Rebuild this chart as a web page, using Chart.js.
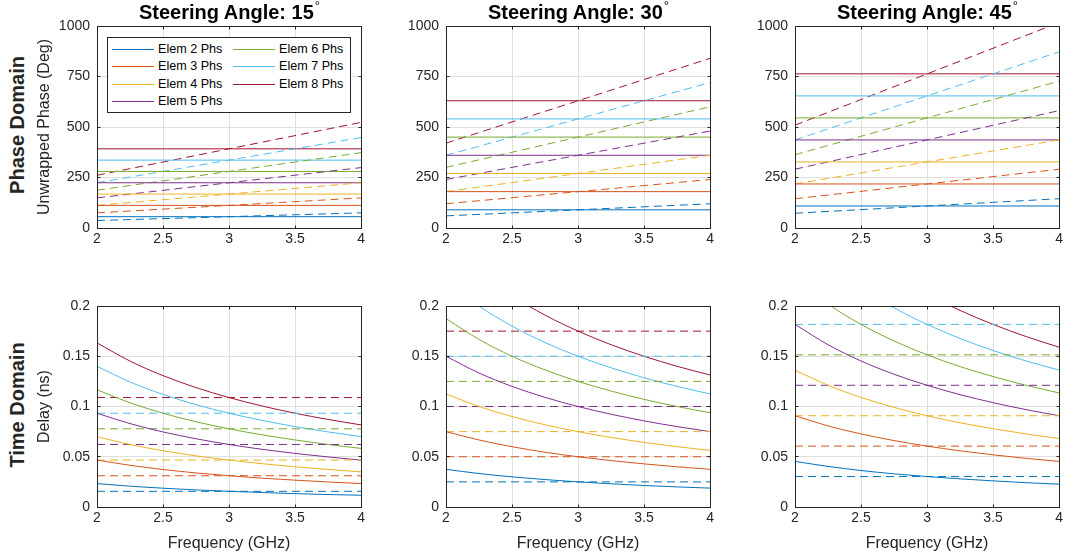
<!DOCTYPE html>
<html>
<head>
<meta charset="utf-8">
<script src="https://cdn.jsdelivr.net/npm/chart.js@4.4.1/dist/chart.umd.min.js"></script>
<style>
html,body{margin:0;padding:0;background:#fff;}
body{width:1070px;height:558px;position:relative;overflow:hidden;font-family:"Liberation Sans",Arial,Helvetica,sans-serif;}
canvas{position:absolute;}
.title{position:absolute;width:400px;text-align:center;font-weight:bold;font-size:20px;line-height:20px;color:#000;top:1.5px;white-space:nowrap;z-index:5;}
.deg{font-size:13px;font-weight:normal;position:relative;top:-9px;margin-left:1px;}
.rowlab{position:absolute;width:220px;height:20px;line-height:20px;text-align:center;font-weight:bold;font-size:20px;color:#262626;transform:rotate(-90deg);white-space:nowrap;z-index:5;}
.legend{position:absolute;box-sizing:border-box;left:107px;top:37px;width:244px;height:76px;background:#fff;border:1px solid #262626;z-index:6;}
.lgline{position:absolute;width:42px;height:0;z-index:7;}
.lgtext{position:absolute;font-size:12.6px;line-height:16px;color:#000;white-space:nowrap;z-index:7;}
</style>
</head>
<body>
<script>
// ---------------- DATA ----------------
const ANGLES = [15, 30, 45];
const ELEMENTS = ['Elem 2 Phs', 'Elem 3 Phs', 'Elem 4 Phs', 'Elem 5 Phs', 'Elem 6 Phs', 'Elem 7 Phs', 'Elem 8 Phs'];
const ROW_LABELS = ['Phase Domain', 'Time Domain'];
const Y_TITLES = ['Unwrapped Phase (Deg)', 'Delay (ns)'];
const X_TITLE = 'Frequency (GHz)';

const FREQ_ENDS = [2, 4];
const FREQ_POINTS = [2, 2.25, 2.5, 2.75, 3, 3.25, 3.5, 3.75, 4];

const FREQ_TICKS = [2, 2.5, 3, 3.5, 4];
const FREQ_TICK_LABELS = ['2', '2.5', '3', '3.5', '4'];
const PHASE_TICKS = [0, 250, 500, 750, 1000];
const PHASE_TICK_LABELS = ['0', '250', '500', '750', '1000'];
const DELAY_TICKS = [0, 0.05, 0.1, 0.15, 0.2];
const DELAY_TICK_LABELS = ['0', '0.05', '0.1', '0.15', '0.2'];

// Phase domain: phase shifter (solid, constant) and true-time-delay phase (dashed, at 2 and 4 GHz)
const PHASE_SOLID_15 = [56, 112, 168, 224, 280, 336, 392];
const PHASE_DASH_2GHZ_15 = [37, 75, 112, 149, 187, 224, 261];
const PHASE_DASH_4GHZ_15 = [75, 149, 224, 299, 373, 448, 523];
const PHASE_SOLID_30 = [90, 180, 270, 360, 450, 540, 630];
const PHASE_DASH_2GHZ_30 = [60, 120, 180, 240, 300, 360, 420];
const PHASE_DASH_4GHZ_30 = [120, 240, 360, 480, 600, 720, 840];
const PHASE_SOLID_45 = [109, 218, 327, 436, 545, 654, 763];
const PHASE_DASH_2GHZ_45 = [73, 145, 218, 291, 363, 436, 509];
const PHASE_DASH_4GHZ_45 = [145, 291, 436, 581, 727, 872, 1017];

// Time domain: true-time delay (dashed, constant)
const DELAY_DASH_15 = [0.0156, 0.0311, 0.0467, 0.0622, 0.0778, 0.0933, 0.1089];
const DELAY_DASH_30 = [0.025, 0.05, 0.075, 0.1, 0.125, 0.15, 0.175];
const DELAY_DASH_45 = [0.0303, 0.0606, 0.0908, 0.1211, 0.1514, 0.1817, 0.2119];

// Time domain: phase-shifter delay (solid), values at FREQ_POINTS
const DELAY_SOLID_15 = [
  [0.0233, 0.0207, 0.0187, 0.0170, 0.0156, 0.0144, 0.0133, 0.0124, 0.0117],
  [0.0467, 0.0415, 0.0373, 0.0339, 0.0311, 0.0287, 0.0267, 0.0249, 0.0233],
  [0.0700, 0.0622, 0.0560, 0.0509, 0.0467, 0.0431, 0.0400, 0.0373, 0.0350],
  [0.0933, 0.0830, 0.0747, 0.0679, 0.0622, 0.0574, 0.0533, 0.0498, 0.0467],
  [0.1167, 0.1037, 0.0933, 0.0848, 0.0778, 0.0718, 0.0667, 0.0622, 0.0583],
  [0.1400, 0.1244, 0.1120, 0.1018, 0.0933, 0.0862, 0.0800, 0.0747, 0.0700],
  [0.1633, 0.1452, 0.1307, 0.1188, 0.1089, 0.1005, 0.0933, 0.0871, 0.0817]
];
const DELAY_SOLID_30 = [
  [0.0375, 0.0333, 0.0300, 0.0273, 0.0250, 0.0231, 0.0214, 0.0200, 0.0188],
  [0.0750, 0.0667, 0.0600, 0.0545, 0.0500, 0.0462, 0.0429, 0.0400, 0.0375],
  [0.1125, 0.1000, 0.0900, 0.0818, 0.0750, 0.0692, 0.0643, 0.0600, 0.0563],
  [0.1500, 0.1333, 0.1200, 0.1091, 0.1000, 0.0923, 0.0857, 0.0800, 0.0750],
  [0.1875, 0.1667, 0.1500, 0.1364, 0.1250, 0.1154, 0.1071, 0.1000, 0.0938],
  [0.2250, 0.2000, 0.1800, 0.1636, 0.1500, 0.1385, 0.1286, 0.1200, 0.1125],
  [0.2625, 0.2333, 0.2100, 0.1909, 0.1750, 0.1615, 0.1500, 0.1400, 0.1313]
];
const DELAY_SOLID_45 = [
  [0.0454, 0.0404, 0.0363, 0.0330, 0.0303, 0.0280, 0.0260, 0.0242, 0.0227],
  [0.0908, 0.0807, 0.0727, 0.0661, 0.0606, 0.0559, 0.0519, 0.0484, 0.0454],
  [0.1362, 0.1211, 0.1090, 0.0991, 0.0908, 0.0838, 0.0779, 0.0727, 0.0681],
  [0.1817, 0.1615, 0.1453, 0.1321, 0.1211, 0.1118, 0.1038, 0.0969, 0.0908],
  [0.2271, 0.2019, 0.1817, 0.1652, 0.1514, 0.1397, 0.1298, 0.1211, 0.1135],
  [0.2725, 0.2422, 0.2180, 0.1982, 0.1817, 0.1677, 0.1557, 0.1453, 0.1363],
  [0.3179, 0.2826, 0.2543, 0.2312, 0.2119, 0.1956, 0.1817, 0.1696, 0.1590]
];

// ---------------- STYLE / LAYOUT ----------------
const COLORS = ['#0072BD', '#D95319', '#EDB120', '#7E2F8E', '#77AC30', '#4DBEEE', '#A2142F'];
const FONT = '"Liberation Sans", Arial, Helvetica, sans-serif';
const TEXT = '#262626';
const GRID = '#dfdfdf';
const DASH = [8, 5];
const PLOT_LEFT = [97, 446, 795];
const PLOT_TOP = [26, 306];
const PLOT_W = 265;
const PLOT_H = [202, 201];
const AXIS_W = 67, PAD_TOP = 16, PAD_RIGHT = 6, AXIS_H = [26, 50];

Chart.defaults.font.family = FONT;

const PHASE = [
  [PHASE_SOLID_15, PHASE_DASH_2GHZ_15, PHASE_DASH_4GHZ_15],
  [PHASE_SOLID_30, PHASE_DASH_2GHZ_30, PHASE_DASH_4GHZ_30],
  [PHASE_SOLID_45, PHASE_DASH_2GHZ_45, PHASE_DASH_4GHZ_45]
];
const DELAY = [
  [DELAY_SOLID_15, DELAY_DASH_15],
  [DELAY_SOLID_30, DELAY_DASH_30],
  [DELAY_SOLID_45, DELAY_DASH_45]
];

const alignPx = p => Math.round(p - 0.5) + 0.5;
const boxPlugin = {
  id: 'matBox',
  afterDraw(chart) {
    const {ctx, chartArea: a, scales} = chart;
    const L = alignPx(a.left), R = alignPx(a.right), T = alignPx(a.top), B = alignPx(a.bottom);
    ctx.save();
    ctx.strokeStyle = TEXT;
    ctx.lineWidth = 1;
    ctx.beginPath();
    const tl = 3;
    scales.x.ticks.forEach(t => {
      const px = alignPx(scales.x.getPixelForValue(t.value));
      if (px <= L + 1 || px >= R - 1) return;
      ctx.moveTo(px, B); ctx.lineTo(px, B - tl);
      ctx.moveTo(px, T); ctx.lineTo(px, T + tl);
    });
    scales.y.ticks.forEach(t => {
      const py = alignPx(scales.y.getPixelForValue(t.value));
      if (py <= T + 1 || py >= B - 1) return;
      ctx.moveTo(L, py); ctx.lineTo(L + tl, py);
      ctx.moveTo(R, py); ctx.lineTo(R - tl, py);
    });
    ctx.stroke();
    ctx.strokeRect(L, T, R - L, B - T);
    ctx.restore();
  }
};

function line(points, color, dashed, smooth) {
  return {
    data: points,
    borderColor: color,
    backgroundColor: color,
    borderWidth: 1,
    borderDash: dashed ? DASH : [],
    pointRadius: 0,
    fill: false,
    tension: 0,
    cubicInterpolationMode: smooth ? 'monotone' : 'default'
  };
}

function makeChart(col, row) {
  const axisH = AXIS_H[row];
  const W = AXIS_W + PLOT_W + PAD_RIGHT;
  const H = PAD_TOP + PLOT_H[row] + axisH;
  const cv = document.createElement('canvas');
  cv.width = W; cv.height = H;
  cv.style.left = (PLOT_LEFT[col] - AXIS_W) + 'px';
  cv.style.top = (PLOT_TOP[row] - PAD_TOP) + 'px';
  cv.style.width = W + 'px'; cv.style.height = H + 'px';
  document.body.appendChild(cv);

  const datasets = [];
  if (row === 0) {
    const [solid, d2, d4] = PHASE[col];
    ELEMENTS.forEach((name, i) => {
      datasets.push(line([{x: FREQ_ENDS[0], y: solid[i]}, {x: FREQ_ENDS[1], y: solid[i]}], COLORS[i], false, false));
      datasets.push(line([{x: FREQ_ENDS[0], y: d2[i]}, {x: FREQ_ENDS[1], y: d4[i]}], COLORS[i], true, false));
    });
  } else {
    const [solid, dash] = DELAY[col];
    ELEMENTS.forEach((name, i) => {
      datasets.push(line(FREQ_POINTS.map((f, j) => ({x: f, y: solid[i][j]})), COLORS[i], false, true));
      datasets.push(line([{x: FREQ_ENDS[0], y: dash[i]}, {x: FREQ_ENDS[1], y: dash[i]}], COLORS[i], true, false));
    });
  }
  const yT = row === 0 ? PHASE_TICKS : DELAY_TICKS;
  const yL = row === 0 ? PHASE_TICK_LABELS : DELAY_TICK_LABELS;

  new Chart(cv, {
    type: 'line',
    data: {datasets},
    plugins: [boxPlugin],
    options: {
      responsive: false,
      animation: false,
      devicePixelRatio: 1,
      events: [],
      layout: {padding: {left: 0, top: PAD_TOP, right: PAD_RIGHT, bottom: 0}},
      plugins: {legend: {display: false}, tooltip: {enabled: false}, title: {display: false}},
      scales: {
        x: {
          type: 'linear', min: FREQ_TICKS[0], max: FREQ_TICKS[FREQ_TICKS.length - 1],
          afterBuildTicks: s => { s.ticks = FREQ_TICKS.map(v => ({value: v})); },
          afterFit: s => { s.height = axisH; },
          ticks: {padding: 3, color: TEXT, font: {size: 14}, maxRotation: 0, autoSkip: false,
                  callback: (v, i) => FREQ_TICK_LABELS[i]},
          grid: {color: GRID, lineWidth: 1, drawTicks: false},
          border: {display: false},
          title: row === 1 ? {display: true, text: X_TITLE, color: TEXT, font: {size: 16}, padding: {top: 0, bottom: 4}} : {display: false}
        },
        y: {
          type: 'linear', min: yT[0], max: yT[yT.length - 1],
          afterBuildTicks: s => { s.ticks = yT.map(v => ({value: v})); },
          afterFit: s => { s.width = AXIS_W; },
          ticks: {padding: 7, color: TEXT, font: {size: 14}, autoSkip: false,
                  callback: (v, i) => yL[i]},
          grid: {color: GRID, lineWidth: 1, drawTicks: false},
          border: {display: false},
          title: col === 0 ? {display: true, text: Y_TITLES[row], color: TEXT, font: {size: 16}, padding: {top: 4.6, bottom: 0}} : {display: false}
        }
      }
    }
  });
}

for (let r = 0; r < 2; r++) for (let c = 0; c < 3; c++) makeChart(c, r);

// Titles
ANGLES.forEach((a, c) => {
  const d = document.createElement('div');
  d.className = 'title';
  d.style.left = (PLOT_LEFT[c] + PLOT_W / 2 - 200) + 'px';
  d.appendChild(document.createTextNode('Steering Angle: ' + a));
  const s = document.createElement('span');
  s.className = 'deg';
  s.textContent = '°';
  d.appendChild(s);
  document.body.appendChild(d);
});

// Row labels
ROW_LABELS.forEach((t, r) => {
  const d = document.createElement('div');
  d.className = 'rowlab';
  d.textContent = t;
  const cy = r === 0 ? 125 : 404.5;
  d.style.left = (16.8 - 110) + 'px';
  d.style.top = (cy - 10) + 'px';
  document.body.appendChild(d);
});

// Legend (first subplot)
const lg = document.createElement('div');
lg.className = 'legend';
document.body.appendChild(lg);
const LG_ROWS = [48.5, 66, 83.5, 101];
ELEMENTS.forEach((name, i) => {
  const colIdx = i < 4 ? 0 : 1;
  const rowIdx = i < 4 ? i : i - 4;
  const y = LG_ROWS[rowIdx];
  const lx = colIdx === 0 ? 112 : 233;
  const tx = colIdx === 0 ? 158 : 279;
  const ln = document.createElement('div');
  ln.className = 'lgline';
  ln.style.left = lx + 'px';
  ln.style.top = Math.round(y) + 'px';
  ln.style.borderTop = '1px solid ' + COLORS[i];
  document.body.appendChild(ln);
  const tx2 = document.createElement('div');
  tx2.className = 'lgtext';
  tx2.style.left = tx + 'px';
  tx2.style.top = (y - 8) + 'px';
  tx2.textContent = name;
  document.body.appendChild(tx2);
});
</script>
</body>
</html>
